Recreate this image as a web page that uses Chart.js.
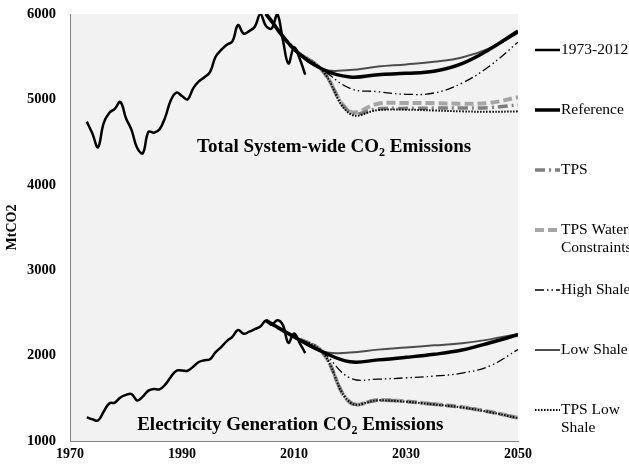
<!DOCTYPE html>
<html>
<head>
<meta charset="utf-8">
<script src="https://cdn.jsdelivr.net/npm/chart.js@4/dist/chart.umd.min.js"></script>
<style>
  html, body { margin: 0; padding: 0; background: #ffffff; }
  #wrap { width: 629px; height: 472px; position: relative; }
</style>
</head>
<body>
<div id="wrap"><canvas id="c" width="629" height="472"></canvas></div>
<script>
// Historical emissions, 1973-2012 (MtCO2)
const histYears = [1973, 1974, 1975, 1976, 1977, 1978, 1979, 1980, 1981, 1982,
                   1983, 1984, 1985, 1986, 1987, 1988, 1989, 1990, 1991, 1992,
                   1993, 1994, 1995, 1996, 1997, 1998, 1999, 2000, 2001, 2002,
                   2003, 2004, 2005, 2006, 2007, 2008, 2009, 2010, 2011, 2012];
const totalHist = [4740, 4600, 4440, 4720, 4840, 4890, 4970, 4780, 4640, 4430,
                   4370, 4620, 4610, 4650, 4790, 4990, 5080, 5040, 5000, 5130,
                   5210, 5260, 5320, 5500, 5580, 5640, 5680, 5870, 5770, 5800,
                   5850, 6000, 5860, 5830, 6000, 5700, 5420, 5610, 5480, 5290];
const elecHist  = [1277, 1255, 1240, 1343, 1440, 1450, 1510, 1540, 1550, 1475,
                   1520, 1590, 1610, 1605, 1660, 1750, 1823, 1825, 1823, 1870,
                   1925, 1945, 1957, 2040, 2100, 2170, 2220, 2300, 2255, 2280,
                   2310, 2340, 2410, 2360, 2415, 2360, 2150, 2260, 2150, 2030];

// Scenario projections, 2005-2050
const projYears = [2005, 2010, 2015, 2020, 2025, 2030, 2035, 2040, 2045, 2050];

const totalReference   = [6000, 5590, 5356, 5262, 5290, 5305, 5330, 5420, 5590, 5800];
const totalTPS         = [6000, 5590, 5345, 4850, 4890, 4895, 4898, 4900, 4905, 4935];
const totalTPSWater    = [6000, 5590, 5345, 4860, 4950, 4958, 4955, 4950, 4960, 5025];
const totalHighShale   = [6000, 5590, 5356, 5130, 5090, 5060, 5075, 5190, 5395, 5670];
const totalLowShale    = [6000, 5590, 5356, 5345, 5385, 5410, 5440, 5490, 5600, 5775];
const totalTPSLowShale = [6000, 5590, 5345, 4830, 4875, 4880, 4870, 4860, 4855, 4860];

const elecReference    = [2410, 2220, 2048, 1928, 1950, 1980, 2015, 2065, 2150, 2245];
const elecTPS          = [2410, 2220, 2045, 1455, 1478, 1462, 1430, 1395, 1340, 1270];
const elecTPSWater     = [2410, 2220, 2045, 1450, 1480, 1465, 1432, 1397, 1342, 1272];
const elecHighShale    = [2410, 2220, 2048, 1738, 1725, 1740, 1760, 1795, 1880, 2072];
const elecLowShale     = [2410, 2220, 2048, 2035, 2070, 2095, 2120, 2145, 2190, 2252];
const elecTPSLowShale  = [2410, 2220, 2045, 1452, 1476, 1460, 1428, 1393, 1338, 1268];

// Axis ticks
const xTicks = [1970, 1990, 2010, 2030, 2050];
const yTicks = [1000, 2000, 3000, 4000, 5000, 6000];

// Legend entries (text lines)
const legendLabels = [
  ['1973-2012'],
  ['Reference'],
  ['TPS'],
  ['TPS Water', 'Constraints'],
  ['High Shale'],
  ['Low Shale'],
  ['TPS Low', 'Shale']
];

const SERIF = "'Liberation Serif', 'Times New Roman', Times, serif";

const pts = (xs, ys) => xs.map((x, i) => ({ x: x, y: ys[i] }));

// Line styles per series
const STY = {
  hist:      { borderColor: '#000000', borderWidth: 2.5, borderDash: [] },
  reference: { borderColor: '#000000', borderWidth: 3.5, borderDash: [] },
  tps:       { borderColor: '#7f7f7f', borderWidth: 3.5, borderDash: [10, 4, 2, 4] },
  tpsWater:  { borderColor: '#a6a6a6', borderWidth: 4,   borderDash: [9, 4] },
  highShale: { borderColor: '#000000', borderWidth: 1.3, borderDash: [9, 3, 1.5, 3, 1.5, 3] },
  lowShale:  { borderColor: '#4d4d4d', borderWidth: 2,   borderDash: [] },
  tpsLow:    { borderColor: '#000000', borderWidth: 2,   borderDash: [1.5, 1.5] }
};

function ds(label, data, sty) {
  return Object.assign({
    label: label,
    data: data,
    pointRadius: 0,
    pointHoverRadius: 0,
    fill: false,
    tension: 0.4,
    borderCapStyle: 'butt',
    borderJoinStyle: 'round',
    clip: 0
  }, sty);
}

// First dataset is painted on top
const datasets = [
  ds('1973-2012',       pts(histYears, totalHist),        STY.hist),
  ds('1973-2012 (elec)',pts(histYears, elecHist),         STY.hist),
  ds('TPS Low Shale',   pts(projYears, totalTPSLowShale), STY.tpsLow),
  ds('TPS Low Shale e', pts(projYears, elecTPSLowShale),  STY.tpsLow),
  ds('High Shale',      pts(projYears, totalHighShale),   STY.highShale),
  ds('High Shale e',    pts(projYears, elecHighShale),    STY.highShale),
  ds('Reference',       pts(projYears, totalReference),   STY.reference),
  ds('Reference e',     pts(projYears, elecReference),    STY.reference),
  ds('Low Shale',       pts(projYears, totalLowShale),    STY.lowShale),
  ds('Low Shale e',     pts(projYears, elecLowShale),     STY.lowShale),
  ds('TPS',             pts(projYears, totalTPS),         STY.tps),
  ds('TPS e',           pts(projYears, elecTPS),          STY.tps),
  ds('TPS Water',       pts(projYears, totalTPSWater),    STY.tpsWater),
  ds('TPS Water e',     pts(projYears, elecTPSWater),     STY.tpsWater)
];

const legendStyles = [STY.hist, STY.reference, STY.tps, STY.tpsWater, STY.highShale, STY.lowShale, STY.tpsLow];

// Grey plot-area background
const plotBackground = {
  id: 'plotBackground',
  beforeDraw(chart) {
    const { ctx, chartArea: a } = chart;
    ctx.save();
    ctx.fillStyle = '#f2f2f2';
    ctx.fillRect(a.left, a.top, a.right - a.left, a.bottom - a.top);
    ctx.restore();
  }
};

// Text with a subscript "2"
function drawSubText(ctx, parts, x, y, size) {
  let cx = x;
  parts.forEach(p => {
    const s = p.sub ? Math.round(size * 0.65) : size;
    ctx.font = 'bold ' + s + 'px ' + SERIF;
    ctx.fillText(p.t, cx, y + (p.sub ? size * 0.3 : 0));
    cx += ctx.measureText(p.t).width;
  });
}

const annotations = {
  id: 'annotations',
  afterDatasetsDraw(chart) {
    const { ctx, scales: { x, y } } = chart;
    ctx.save();
    ctx.fillStyle = '#000000';
    ctx.textBaseline = 'middle';
    ctx.textAlign = 'left';
    drawSubText(ctx, [{ t: 'Total System-wide CO' }, { t: '2', sub: true }, { t: ' Emissions' }],
                x.getPixelForValue(1992.7), y.getPixelForValue(4440), 19);
    drawSubText(ctx, [{ t: 'Electricity Generation CO' }, { t: '2', sub: true }, { t: ' Emissions' }],
                x.getPixelForValue(1982.0), y.getPixelForValue(1190), 19);
    ctx.restore();
  }
};

// Legend column on the right
const sideLegend = {
  id: 'sideLegend',
  afterDraw(chart) {
    const { ctx, chartArea: a } = chart;
    const x0 = a.right + 17, x1 = a.right + 42;
    ctx.save();
    legendLabels.forEach((lines, i) => {
      const st = legendStyles[i];
      const yy = a.top + 36 + i * 60;
      ctx.beginPath();
      ctx.strokeStyle = st.borderColor;
      ctx.lineWidth = st.borderWidth;
      ctx.setLineDash(st.borderDash);
      ctx.lineCap = 'butt';
      ctx.moveTo(x0, yy);
      ctx.lineTo(x1, yy);
      ctx.stroke();
      ctx.setLineDash([]);
      ctx.fillStyle = '#000000';
      ctx.font = '15.5px ' + SERIF;
      ctx.textBaseline = 'middle';
      ctx.textAlign = 'left';
      lines.forEach((ln, j) => ctx.fillText(ln, x1 + 1, yy + j * 18));
    });
    ctx.restore();
  }
};

new Chart(document.getElementById('c'), {
  type: 'line',
  data: { datasets: datasets },
  plugins: [plotBackground, annotations, sideLegend],
  options: {
    responsive: false,
    animation: false,
    events: [],
    layout: { padding: { top: 14, right: 111, left: 0, bottom: 0 } },
    plugins: { legend: { display: false }, tooltip: { enabled: false } },
    scales: {
      x: {
        type: 'linear',
        min: 1970,
        max: 2050,
        afterFit(s) { s.height = 31; s.paddingLeft = 0; s.paddingRight = 0; },
        afterBuildTicks(s) { s.ticks = xTicks.map(v => ({ value: v })); },
        grid: { display: false, drawTicks: false },
        border: { display: true, color: '#868686', width: 1 },
        ticks: {
          padding: 5,
          color: '#000000',
          font: { family: SERIF, size: 14, weight: 'bold' },
          callback: v => String(v),
          maxRotation: 0
        }
      },
      y: {
        type: 'linear',
        min: 1000,
        max: 6000,
        afterFit(s) { s.width = 70; s.paddingTop = 0; s.paddingBottom = 0; },
        afterBuildTicks(s) { s.ticks = yTicks.map(v => ({ value: v })); },
        grid: { display: false, drawTicks: false },
        border: { display: true, color: '#868686', width: 1 },
        ticks: {
          padding: 14,
          color: '#000000',
          font: { family: SERIF, size: 14.5, weight: 'bold' },
          callback: v => String(v)
        },
        title: {
          display: true,
          text: 'MtCO2',
          color: '#000000',
          padding: { top: 4, bottom: 4 },
          font: { family: SERIF, size: 14, weight: 'bold' }
        }
      }
    }
  }
});
</script>
</body>
</html>
